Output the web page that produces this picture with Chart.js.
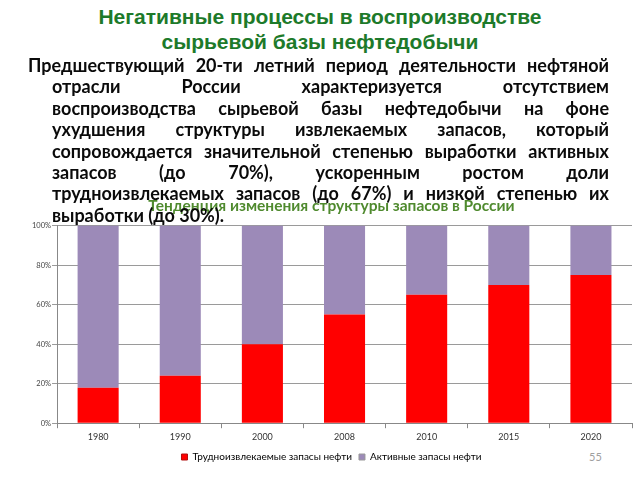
<!DOCTYPE html>
<html lang="ru">
<head>
<meta charset="utf-8">
<script src="https://cdn.jsdelivr.net/npm/chart.js@4"></script>
<style>
    html, body { margin: 0; padding: 0; background: #fff; }
    body { width: 640px; height: 480px; position: relative; overflow: hidden; }
    .slide-title {
        position: absolute; top: 4px; left: 0; width: 640px;
        text-align: center; font: bold 21px/25px "Liberation Sans", Arial, sans-serif;
        color: #1d7a2a; z-index: 2;
    }
    .slide-text {
        position: absolute; top: 55px; left: 52px; width: 557px;
        font: bold 18px/21.4px Lato, sans-serif; color: #0a0a0a;
        z-index: 2; margin: 0;
    }
    .slide-text div { text-align: justify; text-align-last: justify; white-space: nowrap; }
    .slide-text div.first { margin-left: -24px; }
    .slide-text div.last { text-align-last: left; }
    .page-num {
        position: absolute; left: 589px; top: 450px;
        font: 11px Lato, sans-serif; color: #a0a0a0;
    }
    #chart-reserves { position: absolute; left: 0; top: 196px; z-index: 1; }
</style>
</head>
<body>
<div class="slide-title">Негативные процессы в воспроизводстве<br>сырьевой базы нефтедобычи</div>
<div class="slide-text">
    <div class="first">Предшествующий 20-ти летний период деятельности нефтяной</div>
    <div>отрасли России характеризуется отсутствием</div>
    <div>воспроизводства сырьевой базы нефтедобычи на фоне</div>
    <div>ухудшения структуры извлекаемых запасов, который</div>
    <div>сопровождается значительной степенью выработки активных</div>
    <div>запасов (до 70%), ускоренным ростом доли</div>
    <div>трудноизвлекаемых запасов (до 67%) и низкой степенью их</div>
    <div class="last">выработки (до 30%).</div>
</div>
<div class="page-num">55</div>
<canvas id="chart-reserves" width="640" height="284"></canvas>

<script>
// ── Data ─────────────────────────────────────────────────────────────────────

const years = ['1980', '1990', '2000', '2008', '2010', '2015', '2020'];
const hardReserves = [18, 24, 40, 55, 65, 70, 75];     // трудноизвлекаемые, %
const activeReserves = [82, 76, 60, 45, 35, 30, 25];   // активные, %
const yTicks = [0, 20, 40, 60, 80, 100];

// ── Chart ────────────────────────────────────────────────────────────────────

const labelFont = 'Lato, sans-serif';

new Chart(document.getElementById('chart-reserves'), {
    type: 'bar',
    data: {
        labels: years,
        datasets: [
            {
                label: 'Трудноизвлекаемые запасы нефти',
                data: hardReserves,
                backgroundColor: '#ff0000',
                borderWidth: 0,
                barPercentage: 0.5,
                categoryPercentage: 1,
            },
            {
                label: 'Активные запасы нефти',
                data: activeReserves,
                backgroundColor: '#9c8ab8',
                borderWidth: 0,
                barPercentage: 0.5,
                categoryPercentage: 1,
            },
        ],
    },
    options: {
        responsive: false,
        animation: false,
        devicePixelRatio: 1,
        layout: { padding: { left: 31, right: 8, top: 0, bottom: 8 } },
        plugins: {
            title: {
                display: true,
                text: 'Тенденция изменения структуры запасов в России',
                color: '#4f8a2e',
                font: { family: labelFont, size: 15.5, weight: 'bold' },
                padding: { top: 1, bottom: 10 },
            },
            legend: {
                position: 'bottom',
                labels: {
                    color: '#333',
                    font: { family: labelFont, size: 10 },
                    boxWidth: 6,
                    boxHeight: 6,
                    padding: 7,
                    generateLabels: (chart) => chart.data.datasets.map((ds, i) => ({
                        text: ds.label,
                        fillStyle: ds.backgroundColor,
                        strokeStyle: i === 0 ? '#b01010' : '#9a9a9a',
                        lineWidth: 1,
                        datasetIndex: i,
                    })),
                },
            },
            tooltip: { enabled: false },
        },
        scales: {
            x: {
                stacked: true,
                grid: { offset: true, drawOnChartArea: false, tickLength: 5, color: '#888' },
                border: { color: '#888' },
                ticks: { color: '#333', font: { family: labelFont, size: 9 }, padding: 3 },
            },
            y: {
                stacked: true,
                min: 0,
                max: 100,
                afterBuildTicks: (axis) => { axis.ticks = yTicks.map((v) => ({ value: v })); },
                grid: { color: '#9a9a9a', tickLength: 5 },
                border: { color: '#888' },
                ticks: {
                    color: '#444',
                    font: { family: labelFont, size: 7.5 },
                    padding: 1,
                    callback: (v) => `${v}%`,
                },
            },
        },
    },
});
</script>
</body>
</html>
